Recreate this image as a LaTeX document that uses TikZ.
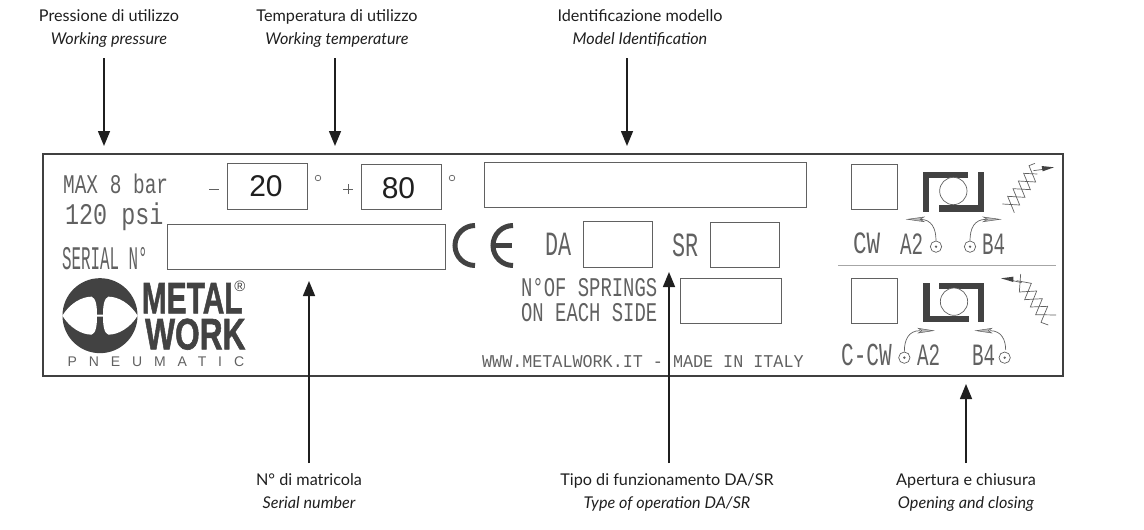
\documentclass[tikz,border=0pt]{standalone}
\usepackage{fontspec}
\usetikzlibrary{arrows.meta}
\setmainfont{Lato}
\newfontfamily\monofam{Liberation Mono}
\newfontfamily\sansfam{Liberation Sans}
\definecolor{ink}{gray}{0.12}
\definecolor{plateink}{gray}{0.38}
\definecolor{logoink}{gray}{0.26}
\tikzset{
  lbl/.style={inner sep=0pt,anchor=base,text=ink,font=\fontsize{16.2}{20}\selectfont},
  lbli/.style={lbl,font=\fontsize{16.2}{20}\selectfont\itshape},
  callout/.style={draw=ink,line width=1.5pt,-{Triangle[length=15pt,width=12pt]}},
  boxline/.style={draw=plateink,line width=0.8pt},
  thin part/.style={draw=plateink,line width=0.7pt},
  tip part/.style={draw=plateink,fill=gray!55,line width=0.5pt},
}
\newcommand{\plate}[7]{\node[inner sep=0pt,anchor=base west,text=plateink,xscale=#5] (#1) at (#2,#3) {\monofam\fontsize{#4}{#4}\selectfont #6#7};}
\begin{document}
\begin{tikzpicture}[x=1pt,y=-1pt]
\useasboundingbox (0,0) rectangle (1144,530);
% labels
\node[lbl] (l1a) at (109,21) {Pressione di utilizzo};
\node[lbli] (l1b) at (109,44) {Working pressure};
\node[lbl] (l2a) at (337,21) {Temperatura di utilizzo};
\node[lbli] (l2b) at (337,44) {Working temperature};
\node[lbl] (l3a) at (640,21) {Identificazione modello};
\node[lbli] (l3b) at (640,44) {Model Identification};
\node[lbl] (l4a) at (309,485) {N° di matricola};
\node[lbli] (l4b) at (309,508) {Serial number};
\node[lbl] (l5a) at (667,485) {Tipo di funzionamento DA/SR};
\node[lbli] (l5b) at (667,508) {Type of operation DA/SR};
\node[lbl] (l6a) at (966,485) {Apertura e chiusura};
\node[lbli] (l6b) at (966,508) {Opening and closing};
% plate
\draw[draw=ink!85,line width=1.2pt] (43,154) rectangle (1063,376);
\draw[boxline] (227,163) rectangle (307,209);
\draw[boxline] (361,164) rectangle (441,209);
\draw[boxline] (484,162) rectangle (806,207);
\draw[boxline] (167,224) rectangle (445,269);
\draw[boxline] (583,221) rectangle (652,267);
\draw[boxline] (710,222) rectangle (779,267);
\draw[boxline] (680,278) rectangle (781,323);
\draw[boxline] (851,164) rectangle (897,209);
\draw[boxline] (851,278) rectangle (897,323);
\draw[draw=gray!70,line width=0.9pt] (838,265) -- (1056,265);
% plate text
\plate{t1}{63}{193}{27}{0.72}{MAX 8 bar}{}
\plate{t2}{65}{224}{30}{0.78}{120 psi}{}
\plate{t3}{62}{269}{33}{0.48}{SERIAL N°}{}
\plate{t4}{545}{255}{34}{0.64}{DA}{}
\plate{t5}{672}{256}{34}{0.64}{SR}{}
\plate{t6}{521}{296}{27}{0.7}{N°OF SPRINGS}{}
\plate{t7}{521}{321}{27}{0.7}{ON EACH SIDE}{}
\plate{t8}{482}{367}{18}{0.93}{WWW.METALWORK.IT - MADE IN ITALY}{}
\plate{t9}{853}{253}{31}{0.73}{CW}{}
\plate{t10}{900}{254}{31}{0.62}{A2}{}
\plate{t11}{982}{254}{31}{0.62}{B4}{}
\plate{t12}{841}{365}{32}{0.66}{C-CW}{}
\plate{t13}{917}{365}{31}{0.62}{A2}{}
\plate{t14}{972}{365}{31}{0.62}{B4}{}
\node[inner sep=0pt,anchor=base,text=ink] (n20) at (266,196) {\sansfam\fontsize{30}{30}\selectfont 20};
\node[inner sep=0pt,anchor=base,text=ink] (n80) at (398.5,198) {\sansfam\fontsize{30}{30}\selectfont 80};
\draw[thin part] (209,189) -- (219,189);
\draw[thin part] (343,189) -- (353,189) (348,184) -- (348,194);
\draw[thin part] (318,178) circle (2.8);
\draw[thin part] (452,178) circle (2.8);
% CE
\draw[draw=logoink,line width=5pt] (475,225.5) arc[start angle=90,end angle=270,x radius=20,y radius=-20];
\draw[draw=logoink,line width=5pt] (513,225.5) arc[start angle=90,end angle=270,x radius=20,y radius=-20];
\draw[draw=logoink,line width=5pt] (495,245.5) -- (512,245.5);
% logo
\begin{scope}[shift={(50,270)},scale=1/3]
\fill[logoink] (150,137) circle (112.5);
\fill[white] (37,137) .. controls (60,100) and (95,80) .. (125,80) .. controls (138,84) and (141,110) .. (141,134) -- (159,134) .. controls (159,110) and (162,84) .. (175,80) .. controls (205,80) and (240,100) .. (263,137) .. controls (240,174) and (205,194) .. (175,194) .. controls (162,190) and (159,164) .. (159,140) -- (141,140) .. controls (141,164) and (138,190) .. (125,194) .. controls (95,194) and (60,174) .. (37,137) -- cycle;
\fill[logoink] (141,100) rectangle (159,133);
\fill[logoink] (141,141) rectangle (159,175);
\node[inner sep=0pt,anchor=base west,text=logoink,xscale=0.68] (logo1) at (275,130) {\sansfam\bfseries\addfontfeature{FakeBold=1.5}\fontsize{44}{44}\selectfont METAL};
\node[inner sep=0pt,anchor=base west,text=logoink,xscale=0.72] (logo2) at (285,238) {\sansfam\bfseries\addfontfeature{FakeBold=1.5}\fontsize{44}{44}\selectfont WORK};
\node[inner sep=0pt,text=logoink] (logo3) at (570,48) {\sansfam\fontsize{15}{15}\selectfont ®};
\node[inner sep=0pt,anchor=base west,text=plateink] (logo4) at (52,288) {\sansfam\fontsize{14}{14}\selectfont\addfontfeature{LetterSpace=85}PNEUMATIC};
\end{scope}
% CW symbol
\begin{scope}[shift={(800,150)},scale=1/3]
\fill[logoink] (368,65) rectangle (505,85);
\fill[logoink] (368,65) rectangle (388,187);
\fill[logoink] (416,165) rectangle (553,187);
\fill[logoink] (533,65) rectangle (553,187);
\draw[thin part,fill=white] (460,123) circle (41);
\draw[thin part] (643,188) -- (623,139) -- (675,142) -- (655,93) -- (707,96) -- (687,47) -- (705,40);
\draw[thin part] (607,162) -- (659,165) -- (639,116) -- (691,119) -- (671,70) -- (712,72);
\draw[thin part] (700,62) -- (730,58);
\fill[logoink] (762,52) -- (725,48) -- (728,64) -- cycle;
\draw[thin part] (408,272) .. controls (408,235) and (395,208) .. (360,208);
\draw[thin part] (510,272) .. controls (510,235) and (523,208) .. (558,208);
\draw[tip part] (322,208) -- (372,201) -- (360,208) -- (372,215) -- cycle;
\draw[tip part] (600,208) -- (550,201) -- (562,208) -- (550,215) -- cycle;
\draw[thin part] (408,290) circle (17);
\fill[plateink] (408,290) circle (4);
\draw[thin part] (510,290) circle (17);
\fill[plateink] (510,290) circle (4);
\end{scope}
% C-CW symbol
\begin{scope}[shift={(800,260)},scale=1/3]
\fill[logoink] (370,68) rectangle (390,187);
\fill[logoink] (370,167) rectangle (507,187);
\fill[logoink] (417,68) rectangle (553,88);
\fill[logoink] (533,68) rectangle (553,187);
\draw[thin part,fill=white] (462,125) circle (41);
\draw[thin part] (662,42) -- (658,96) -- (710,93) -- (691,141) -- (743,139) -- (723,187) -- (745,195);
\draw[thin part] (650,62) -- (694,70) -- (674,119) -- (727,116) -- (707,164) -- (768,165);
\draw[thin part] (630,60) -- (665,68);
\fill[logoink] (603,55) -- (640,50) -- (640,66) -- cycle;
\draw[thin part] (313,275) .. controls (313,240) and (325,212) .. (360,212);
\draw[thin part] (617,270) .. controls (617,240) and (605,212) .. (570,212);
\draw[tip part] (400,212) -- (355,205) -- (365,212) -- (355,219) -- cycle;
\draw[tip part] (528,212) -- (575,205) -- (565,212) -- (575,219) -- cycle;
\draw[thin part] (313,293) circle (17);
\fill[plateink] (313,293) circle (4);
\draw[thin part] (614,293) circle (17);
\fill[plateink] (614,293) circle (4);
\end{scope}
% connectors
\coordinate (a1s) at (104,58); \coordinate (a1e) at (104,146);
\coordinate (a2s) at (335,58); \coordinate (a2e) at (335,146);
\coordinate (a3s) at (627,58); \coordinate (a3e) at (627,146);
\coordinate (a4s) at (309,463); \coordinate (a4e) at (309,281);
\coordinate (a5s) at (669,463); \coordinate (a5e) at (669,272);
\coordinate (a6s) at (966,463); \coordinate (a6e) at (966,384);
\draw[callout] (a1s) -- (a1e);
\draw[callout] (a2s) -- (a2e);
\draw[callout] (a3s) -- (a3e);
\draw[callout] (a4s) -- (a4e);
\draw[callout] (a5s) -- (a5e);
\draw[callout] (a6s) -- (a6e);
\end{tikzpicture}
\end{document}
